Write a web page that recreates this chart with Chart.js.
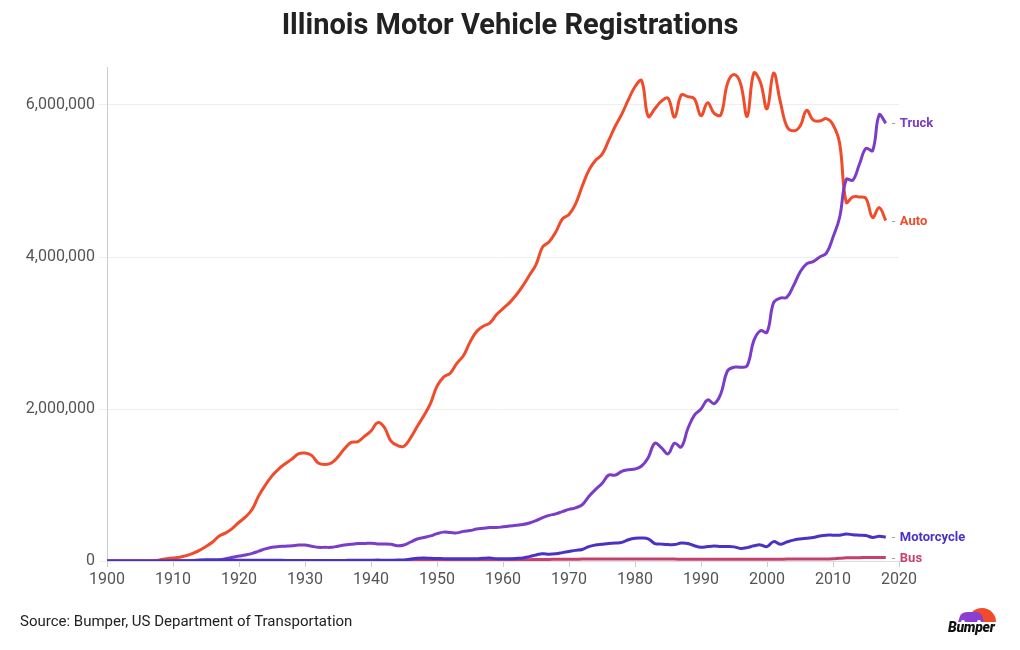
<!DOCTYPE html>
<html>
<head>
<meta charset="utf-8">
<script src="https://cdn.jsdelivr.net/npm/chart.js@4.4.1/dist/chart.umd.min.js"></script>
<style>
  html, body { margin: 0; padding: 0; background: #fff; }
  #wrap { position: relative; width: 1020px; height: 650px; overflow: hidden; font-family: Roboto, "Noto Sans", sans-serif; }
  #title { position: absolute; left: 0; top: 7px; width: 1020px; text-align: center; font-size: 29px; font-weight: 700; line-height: 34px; color: #222; }
  #source { position: absolute; left: 20px; top: 612px; font-size: 15px; line-height: 18px; color: #222; }
  #logo { position: absolute; left: 946px; top: 602px; width: 60px; height: 40px; }
  #logo .txt { position: absolute; left: 2px; top: 17px; font-size: 14px; font-weight: 900; font-style: italic; color: #111; letter-spacing: -0.3px; }
</style>
</head>
<body>
<div id="wrap">
  <canvas id="c" width="1020" height="650"></canvas>
  <div id="title">Illinois Motor Vehicle Registrations</div>
  <div id="source">Source: Bumper, US Department of Transportation</div>
  <div id="logo">
    <svg width="60" height="22" viewBox="0 0 60 22" style="position:absolute;left:0;top:0">
      <path d="M22 20 A14 14 0 0 1 50 20 Z" fill="#F04B2B"/>
      <path d="M12 20 L14 14 Q16 10 22 10 L30 10 Q34 10 36 14 L38 20 Z" fill="#8A3FD0"/>
      <circle cx="17" cy="20" r="2" fill="#fff"/>
      <circle cx="33" cy="20" r="2" fill="#fff"/>
    </svg>
    <div class="txt">Bumper</div>
  </div>
</div>
<script>
// ---- Data (values in millions of registrations) ----
const years = [
  1900,1901,1902,1903,1904,1905,1906,1907,1908,1909,
  1910,1911,1912,1913,1914,1915,1916,1917,1918,1919,
  1920,1921,1922,1923,1924,1925,1926,1927,1928,1929,
  1930,1931,1932,1933,1934,1935,1936,1937,1938,1939,
  1940,1941,1942,1943,1944,1945,1946,1947,1948,1949,
  1950,1951,1952,1953,1954,1955,1956,1957,1958,1959,
  1960,1961,1962,1963,1964,1965,1966,1967,1968,1969,
  1970,1971,1972,1973,1974,1975,1976,1977,1978,1979,
  1980,1981,1982,1983,1984,1985,1986,1987,1988,1989,
  1990,1991,1992,1993,1994,1995,1996,1997,1998,1999,
  2000,2001,2002,2003,2004,2005,2006,2007,2008,2009,
  2010,2011,2012,2013,2014,2015,2016,2017,2018
];

const autoM = [
  0,0,0,0,0,0,0,0.005,0.015,0.03,
  0.04,0.05,0.07,0.10,0.14,0.19,0.25,0.33,0.37,0.43,
  0.51,0.58,0.68,0.86,1.00,1.12,1.21,1.28,1.34,1.41,
  1.42,1.39,1.29,1.27,1.29,1.37,1.48,1.56,1.57,1.64,
  1.71,1.82,1.76,1.58,1.52,1.51,1.62,1.77,1.91,2.07,
  2.30,2.42,2.47,2.60,2.70,2.88,3.02,3.09,3.13,3.24,
  3.32,3.40,3.50,3.62,3.76,3.90,4.13,4.20,4.33,4.50,
  4.56,4.70,4.93,5.14,5.27,5.35,5.53,5.72,5.88,6.07,
  6.24,6.32,5.85,5.95,6.05,6.09,5.84,6.13,6.11,6.08,
  5.86,6.03,5.89,5.87,6.28,6.40,6.28,5.85,6.42,6.30,
  5.95,6.42,6.05,5.72,5.66,5.72,5.93,5.80,5.79,5.82,
  5.74,5.50,4.72,4.79,4.79,4.77,4.52,4.65,4.48
];

const truckM = [
  0,0,0,0,0,0,0,0,0,0,
  0,0,0,0,0,0,0,0.01,0.03,0.05,
  0.065,0.08,0.10,0.13,0.16,0.18,0.19,0.195,0.20,0.21,
  0.21,0.195,0.18,0.18,0.18,0.195,0.21,0.22,0.23,0.23,
  0.235,0.225,0.225,0.22,0.20,0.21,0.25,0.29,0.31,0.33,
  0.36,0.38,0.375,0.37,0.39,0.40,0.42,0.43,0.44,0.44,
  0.45,0.46,0.47,0.48,0.50,0.53,0.57,0.60,0.62,0.65,
  0.68,0.70,0.74,0.85,0.94,1.02,1.13,1.13,1.18,1.20,
  1.21,1.25,1.36,1.55,1.49,1.41,1.55,1.50,1.74,1.92,
  2.00,2.12,2.07,2.20,2.50,2.55,2.55,2.57,2.90,3.03,
  3.01,3.40,3.46,3.47,3.62,3.80,3.91,3.94,4.00,4.05,
  4.26,4.52,5.02,5.01,5.22,5.43,5.40,5.87,5.76
];

const motorcycleM = [
  0,0,0,0,0,0,0,0,0,0.001,
  0.002,0.003,0.004,0.006,0.012,0.015,0.016,0.015,0.013,0.012,
  0.011,0.010,0.010,0.010,0.009,0.009,0.009,0.008,0.008,0.008,
  0.008,0.007,0.006,0.006,0.006,0.007,0.008,0.009,0.009,0.010,
  0.011,0.012,0.011,0.011,0.012,0.014,0.025,0.035,0.038,0.036,
  0.033,0.031,0.030,0.030,0.029,0.029,0.030,0.036,0.038,0.031,
  0.030,0.031,0.034,0.040,0.058,0.080,0.095,0.090,0.096,0.110,
  0.125,0.140,0.152,0.190,0.210,0.220,0.230,0.236,0.245,0.280,
  0.300,0.302,0.292,0.230,0.222,0.216,0.216,0.236,0.230,0.200,
  0.180,0.190,0.196,0.190,0.190,0.186,0.166,0.176,0.200,0.212,
  0.190,0.255,0.222,0.250,0.275,0.290,0.300,0.310,0.330,0.340,
  0.340,0.340,0.355,0.345,0.340,0.335,0.310,0.325,0.315
];

const busM = [
  0,0,0,0,0,0,0,0,0,0,
  0,0,0,0,0,0.001,0.001,0.001,0.001,0.002,
  0.002,0.002,0.003,0.003,0.003,0.004,0.004,0.004,0.005,0.005,
  0.005,0.005,0.005,0.005,0.005,0.006,0.006,0.006,0.007,0.007,
  0.007,0.008,0.008,0.008,0.008,0.008,0.009,0.009,0.010,0.010,
  0.010,0.011,0.011,0.011,0.012,0.012,0.012,0.012,0.013,0.013,
  0.013,0.014,0.015,0.016,0.018,0.020,0.021,0.021,0.022,0.022,
  0.023,0.024,0.025,0.026,0.026,0.026,0.027,0.027,0.027,0.027,
  0.027,0.027,0.026,0.026,0.025,0.025,0.025,0.024,0.024,0.024,
  0.024,0.024,0.023,0.023,0.023,0.023,0.023,0.023,0.024,0.024,
  0.024,0.024,0.024,0.025,0.025,0.025,0.025,0.026,0.026,0.027,
  0.028,0.036,0.042,0.043,0.044,0.045,0.045,0.046,0.046
];

const yTickValues = [0, 2000000, 4000000, 6000000];
const UNIT = 1000000;

const series = [
  { name: 'Motorcycle', values: motorcycleM, color: '#4A33C4' },
  { name: 'Truck',      values: truckM,      color: '#7B3DC8' },
  { name: 'Auto',       values: autoM,       color: '#F04B2B' },
  { name: 'Bus',        values: busM,        color: '#C6406E' }
];

const endLabels = {
  id: 'endLabels',
  afterDatasetsDraw(chart) {
    const ctx = chart.ctx;
    ctx.save();
    chart.data.datasets.forEach((ds, i) => {
      const meta = chart.getDatasetMeta(i);
      const pt = meta.data[meta.data.length - 1];
      if (!pt) return;
      const x = pt.x, y = pt.y;
      ctx.textBaseline = 'middle';
      ctx.textAlign = 'left';
      ctx.font = '400 13px Roboto, sans-serif';
      ctx.fillStyle = '#999';
      ctx.fillText('-', x + 6, y + 1);
      ctx.font = '700 13px Roboto, sans-serif';
      ctx.fillStyle = ds.borderColor;
      ctx.fillText(ds.label, x + 14, y + 1);
    });
    ctx.restore();
  }
};

new Chart(document.getElementById('c'), {
  type: 'line',
  data: {
    datasets: series.map(s => ({
      label: s.name,
      data: years.map((yr, i) => ({ x: yr, y: s.values[i] * UNIT })),
      borderColor: s.color,
      backgroundColor: s.color,
      borderWidth: 3,
      pointRadius: 0,
      tension: 0.4,
      fill: false
    }))
  },
  options: {
    responsive: false,
    animation: false,
    devicePixelRatio: 1,
    layout: { padding: { top: 67, right: 121, bottom: 59, left: 0 } },
    plugins: { legend: { display: false }, tooltip: { enabled: false }, title: { display: false } },
    scales: {
      x: {
        type: 'linear',
        min: 1900,
        max: 2020,
        afterFit: s => { s.height = 30; },
        ticks: {
          stepSize: 10,
          maxRotation: 0,
          autoSkip: false,
          padding: 3,
          color: '#555',
          font: { family: 'Roboto', size: 16 },
          callback: v => String(v)
        },
        grid: { drawOnChartArea: false, color: '#ccc', tickLength: 6 },
        border: { color: '#ddd' }
      },
      y: {
        min: 0,
        max: 6500000,
        afterFit: s => { s.width = 107; },
        afterBuildTicks: s => { s.ticks = yTickValues.map(v => ({ value: v })); },
        ticks: {
          padding: 4,
          color: '#555',
          font: { family: 'Roboto', size: 16 },
          callback: v => Number(v).toLocaleString('en-US')
        },
        grid: { color: '#eeeeee', tickLength: 8 },
        border: { color: '#ccc' }
      }
    }
  },
  plugins: [endLabels]
});
</script>
</body>
</html>
